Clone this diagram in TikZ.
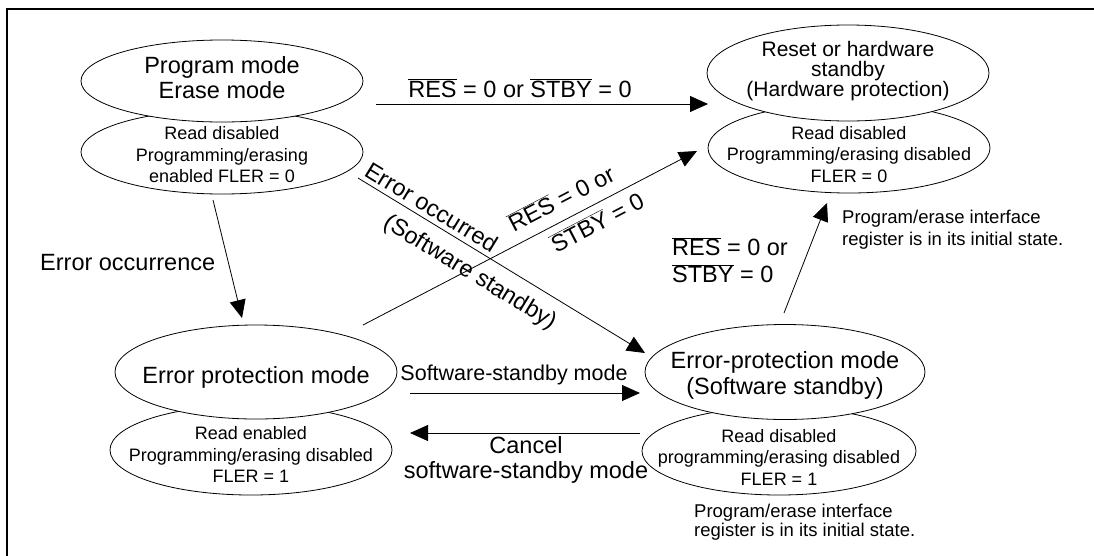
\documentclass[tikz,border=0pt]{standalone}
\usepackage{fontspec}
\setmainfont{Liberation Sans}
\usetikzlibrary{shapes,arrows.meta,positioning,calc}

\newcommand{\nsig}[1]{$\overline{\mbox{#1}}$}

\begin{document}
\begin{tikzpicture}[x=1pt, y=-1pt,
    state/.style={draw, ellipse, fill=white, inner sep=0pt, minimum width=282pt, line width=0.8pt},
    big/.style={font=\fontsize{23.5}{24.5}\selectfont, align=center, inner sep=0pt},
    mid/.style={font=\fontsize{21}{20}\selectfont, align=center, inner sep=0pt},
    small/.style={font=\fontsize{18}{21.5}\selectfont, align=center, inner sep=0pt},
    note/.style={font=\fontsize{18.5}{21.5}\selectfont, align=left, inner sep=0pt, anchor=west},
    arr/.style={-{Triangle[length=18pt,width=16pt]}, line width=0.8pt}]

    \useasboundingbox (0,0) rectangle (1094,555);
    \draw[line width=2.5pt] (1100,9) -- (7,9) -- (7,560);

    % program / erase mode
    \node[state, minimum height=84pt, label={[small,yshift=-3pt]center:Read disabled\\Programming/erasing\\enabled FLER = 0}] (pmst) at (222,152) {};
    \node[state, minimum height=82pt, label={[big,yshift=3.5pt]center:Program mode\\Erase mode}] (pm) at (222,81) {};

    % reset / hardware standby
    \node[state, minimum height=90pt, label={[small,yshift=-6.5pt]center:Read disabled\\Programming/erasing disabled\\FLER = 0}] (hwst) at (849,148) {};
    \node[state, minimum height=96pt, label={[mid,yshift=1.7pt]center:Reset or hardware\\standby\\(Hardware protection)}] (hw) at (848,73) {};

    % error protection
    \node[state, minimum height=90pt, label={[small,yshift=-4.5pt]center:Read enabled\\Programming/erasing disabled\\FLER = 1}] (epst) at (251,450) {};
    \node[state, minimum height=94pt, label={[big,yshift=-5pt]center:Error protection mode}] (ep) at (256,372) {};

    % error protection, software standby
    \node[state, minimum width=274pt, minimum height=88pt, label={[small,yshift=-6pt]center:Read disabled\\programming/erasing disabled\\FLER = 1}] (ssst) at (779,451) {};
    \node[state, minimum width=280pt, minimum height=95pt, label={[big,font=\fontsize{23.5}{26.5}\selectfont,yshift=-3.5pt]center:Error-protection mode\\(Software standby)}] (ss) at (785,372) {};

    % arrow ends
    \coordinate (pm-r) at (376,104);
    \coordinate (hw-l) at (708,104);
    \coordinate (pm-b) at (213,200);
    \coordinate (ep-t) at (242,318);
    \coordinate (ep-r) at (363,325);
    \coordinate (hwst-l) at (697,151);
    \coordinate (pm-d) at (358,178);
    \coordinate (ss-l) at (645,353);
    \coordinate (ep-out) at (410,393);
    \coordinate (ss-in) at (640,393);
    \coordinate (ss-out) at (640,433);
    \coordinate (ep-in) at (410,433);
    \coordinate (ss-t) at (784,313);
    \coordinate (hwst-b) at (827,203);

    \draw[arr] (pm-r) -- (hw-l);
    \draw[arr] (pm-b) -- (ep-t);
    \draw[arr] (ep-r) -- (hwst-l);
    \draw[arr] (pm-d) -- (ss-l);
    \draw[arr] (ep-out) -- (ss-in);
    \draw[arr] (ss-out) -- (ep-in);
    \draw[arr] (ss-t) -- (hwst-b);

    % labels
    \node[big, anchor=base] (l-res) at (520,97) {\nsig{RES} = 0 or \nsig{STBY} = 0};
    \node[big, anchor=base west] (l-occ) at (40,270) {Error occurrence};
    \node[big, rotate=27.5] (l-res2) at (561,198) {\nsig{RES} = 0 or};
    \node[big, rotate=27.5] (l-stby2) at (597,222) {\nsig{STBY} = 0};
    \node[big, rotate=-31.4] (l-err) at (432,207) {Error occurred};
    \node[big, rotate=-31.4] (l-sw) at (470,273) {(Software standby)};
    \node[font=\fontsize{21.5}{24}\selectfont, inner sep=0pt, anchor=base] (l-ssm) at (514,380) {Software-standby mode};
    \node[big, font=\fontsize{23.5}{25}\selectfont] (l-cancel) at (526,459.5) {Cancel\\software-standby mode};
    \node[big, align=left, anchor=west, font=\fontsize{23.5}{27}\selectfont] (l-res3) at (672,260) {\nsig{RES} = 0 or\\\nsig{STBY} = 0};

    % notes
    \node[note] (n-hw) at (842,229.5) {Program/erase interface\\register is in its initial state.};
    \node[note, font=\fontsize{18.5}{19}\selectfont] (n-ss) at (694,522.6) {Program/erase interface\\register is in its initial state.};
\end{tikzpicture}
\end{document}
